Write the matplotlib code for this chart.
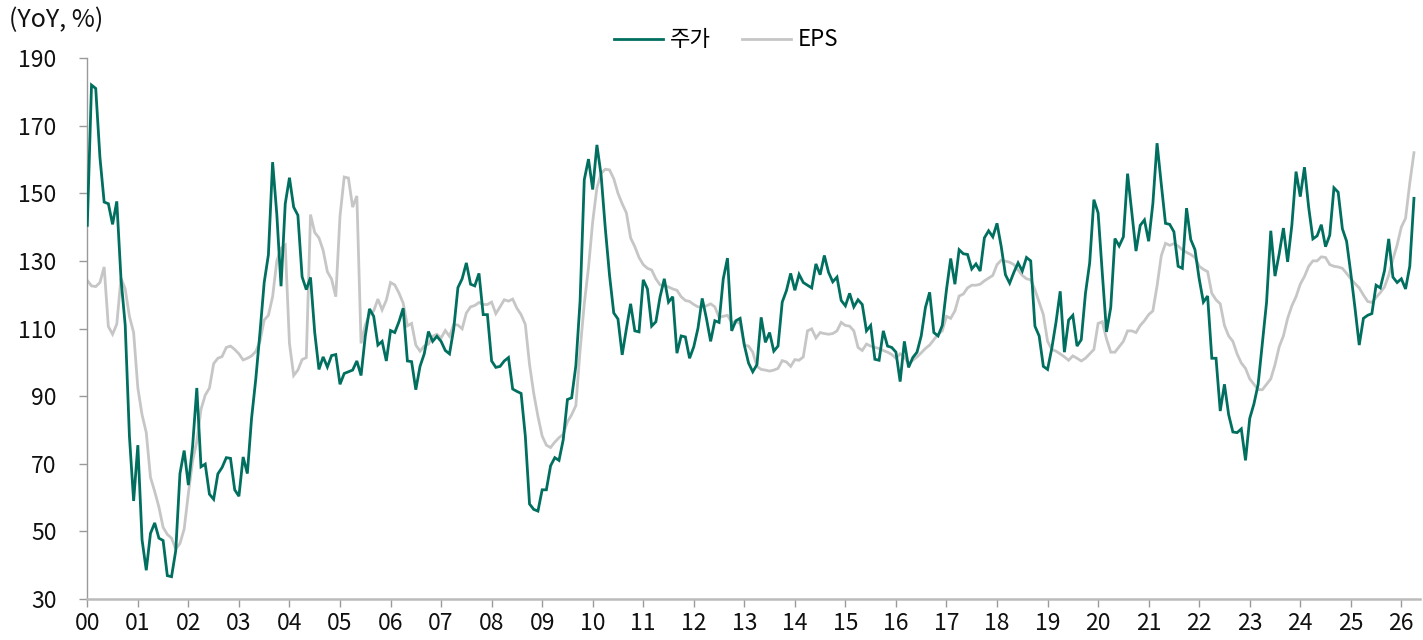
import matplotlib
matplotlib.use("Agg")
import matplotlib.pyplot as plt
import numpy as np

plt.rcParams['font.family'] = ['Noto Sans CJK KR', 'DejaVu Sans']

# Monthly YoY (%) values, Jan 2000 onward
stock_yoy = [
    140.5, 182, 181, 160.6, 147.4, 146.9, 140.8, 147.6, 124.7, 111, 78.2, 59,
    75.5, 47.5, 38.5, 49.4, 52.5, 48, 47.3, 36.9, 36.6, 44.3, 67.1, 73.9,
    63.7, 75.2, 92.4, 69.1, 69.9, 61, 59.5, 67, 68.9, 71.8, 71.6, 62.3,
    60.4, 72, 67.1, 83.4, 95, 108.8, 123.6, 131.8, 159.2, 143.7, 122.5, 146.9,
    154.6, 145.9, 143.5, 125.3, 121.5, 125.1, 108.8, 97.9, 101.6, 98.6, 102, 102.3,
    93.5, 96.7, 97.2, 97.7, 100.4, 96.1, 107.7, 115.8, 113.6, 105.1, 106.2, 100.4,
    109.4, 108.8, 112, 116, 100.4, 100.2, 91.9, 98.8, 102.5, 109.1, 106.2, 107.7,
    106.2, 103.5, 102.5, 109.9, 122.1, 124.7, 129.4, 123.1, 122.6, 126.3, 114.1, 114.1,
    100.4, 98.5, 98.8, 100.4, 101.4, 92.1, 91.4, 90.8, 78.2, 58.1, 56.5, 56,
    62.3, 62.3, 69.4, 71.8, 71, 77.1, 89, 89.5, 99, 118, 154, 160.1,
    151.1, 164.3, 155.3, 139.5, 125.7, 114.6, 112.8, 102.2, 109.9, 117.3, 109.3, 109,
    124.4, 121.7, 110.7, 112, 119.4, 124.7, 117.8, 119.4, 102.7, 107.8, 107.5, 101.2,
    104.6, 110.1, 118.9, 113, 106.2, 112.3, 111.8, 124.7, 130.8, 109.3, 112.3, 113,
    105.1, 99.8, 97.2, 99.3, 113.3, 105.9, 108.8, 103.3, 104.8, 117.8, 121.2, 126.3,
    121.3, 126, 123.6, 122.8, 122, 129.1, 125.9, 131.6, 126.6, 123.8, 125.2, 118.3,
    116.7, 120.4, 116.4, 118.5, 117.1, 109.3, 110.9, 100.9, 100.6, 109.3, 104.8, 104.4,
    103, 94.3, 106.2, 98.5, 101.4, 103, 107.8, 116.2, 120.7, 108.8, 107.8, 110.9,
    121.5, 130.7, 123.1, 133.3, 132.1, 131.9, 127.6, 129.1, 127, 136.8, 138.9, 137.1,
    141.1, 134.2, 125.9, 123.4, 126.6, 129.4, 127, 131, 130, 110.7, 107.8, 98.8,
    97.9, 104.1, 111.8, 121, 103, 112.5, 113.9, 104.8, 106.7, 120.4, 129.4, 148.1,
    144.2, 126.3, 109, 116.2, 136.6, 134.4, 137.1, 155.8, 144.2, 132.9, 140.5, 142.1,
    135.8, 146.9, 164.8, 152.7, 141.1, 140.8, 138.6, 128.4, 127.8, 145.6, 136.3, 133.3,
    124.7, 117.8, 119.6, 101.2, 101.2, 85.6, 93.5, 84.5, 79.4, 79.2, 80.3, 71,
    83.4, 87.7, 93.5, 105.6, 117.8, 138.9, 125.5, 132.1, 139.7, 129.7, 140.5, 156.4,
    149, 157.7, 145.8, 136.5, 137.4, 140.7, 134.2, 137.6, 151.6, 150.3, 139.5, 135.8,
    126.3, 116, 105.1, 113, 113.9, 114.4, 122.8, 122, 127.1, 136.5, 125.2, 123.6,
    124.7, 121.7, 128.4, 148.5,
]

eps_yoy = [
    124.2, 122.6, 122.4, 123.6, 128.2, 110.6, 108.3, 111.3, 124.9, 121.7, 113.6, 108.8,
    92.4, 84.5, 79.2, 66, 61.8, 57.2, 51.2, 49.1, 48, 44.8, 46.4, 50.7,
    61.2, 70.8, 76.6, 86.1, 90.3, 92.4, 99.6, 101.2, 101.7, 104.4, 104.8, 103.8,
    102.5, 100.7, 101.2, 101.9, 103.2, 106.2, 112.5, 113.9, 119.4, 130, 133.7, 134.7,
    105.6, 96.1, 97.7, 100.8, 101.4, 143.7, 138.4, 136.8, 133.1, 126.8, 124.6, 119.4,
    143.2, 154.8, 154.5, 145.9, 149.2, 105.6, 111, 114.1, 115.2, 118.7, 115.5, 118.4,
    123.6, 122.9, 120.5, 117.5, 110.8, 111.5, 105.1, 103.3, 104.8, 105.4, 107.7, 108.3,
    107.2, 109.4, 107.7, 111.2, 111, 109.9, 114.6, 116.4, 116.8, 117.7, 117.1, 117.1,
    117.8, 114.4, 116.4, 118.5, 118.1, 118.7, 116, 114.1, 111.2, 99.4, 90.8, 84,
    78.2, 75.5, 74.8, 76.4, 77.7, 78.7, 82.4, 84.5, 87.2, 103.5, 117.3, 128,
    141.6, 151.6, 155.9, 157.1, 156.9, 154.3, 150, 146.9, 144.2, 136.8, 134.2, 131,
    128.9, 127.8, 127.3, 124.7, 122.9, 122.6, 122.3, 121.7, 121.3, 119.4, 118.3, 118,
    117.1, 116.4, 116.4, 116.7, 117.3, 116.4, 113.3, 113.6, 113.9, 111.8, 112, 111.5,
    105.1, 104.8, 103, 98.8, 97.9, 97.7, 97.4, 97.7, 98.2, 100.5, 100.1, 98.8,
    100.8, 100.6, 101.6, 109.3, 109.9, 107.2, 108.8, 108.5, 108.3, 108.5, 109.3, 111.8,
    110.9, 110.7, 109.3, 104.4, 103.5, 105.4, 104.8, 104.4, 104.1, 103.5, 103, 102.3,
    101.2, 102.5, 101.6, 99.5, 100.6, 101.6, 102.8, 104.1, 105.1, 106.7, 108.3, 109.3,
    113.6, 113, 115.2, 119.6, 120.2, 122, 122.8, 122.8, 123.1, 124.1, 124.9, 125.7,
    128.9, 130.2, 129.9, 129.6, 128.9, 127.3, 125.7, 124.7, 124.4, 121.5, 117.8, 114.1,
    106.2, 103.8, 103.3, 102.5, 101.6, 100.6, 101.9, 101.2, 100.4, 101.2, 102.5, 103.8,
    111.5, 112, 106.9, 103, 103, 104.6, 106.2, 109.3, 109.3, 108.8, 110.9, 112.3,
    114.1, 115.2, 122.6, 131.5, 135.2, 134.6, 135.1, 134.4, 133.3, 132.5, 131.9, 131,
    128.4, 127.5, 126.8, 120.4, 118.5, 117.3, 110.9, 107.8, 106.2, 102.5, 99.8, 98.2,
    95.1, 93.5, 91.9, 91.9, 93.5, 95.1, 99.3, 104.6, 107.8, 113, 116.7, 119.4,
    123.1, 125.4, 128.4, 130, 130, 131.2, 131, 128.9, 128.4, 128.2, 127.8, 126.3,
    124.7, 123.3, 122, 119.9, 118, 117.7, 119.2, 120.6, 122.3, 125.7, 130.5, 134.7,
    140, 142.6, 153, 162,
]

start_year = 2000
year_ticks = list(range(2000, 2027))
year_labels = [f"{y % 100:02d}" for y in year_ticks]
y_ticks = list(range(30, 191, 20))
series_names = ["주가", "EPS"]

x_stock = start_year + np.arange(len(stock_yoy)) / 12.0
x_eps = start_year + np.arange(len(eps_yoy)) / 12.0

W, H = 1423, 640
fig = plt.figure(figsize=(W / 100, H / 100), dpi=100)
left_px, right_px, top_px, bot_px = 87.3, 1420, 58, 599
ax = fig.add_axes([left_px / W, 1 - bot_px / H, (right_px - left_px) / W, (bot_px - top_px) / H])

green = '#006F5F'
grey = '#C6C6C6'
l1, = ax.plot(x_stock, stock_yoy, color=green, lw=2.0, zorder=3, solid_joinstyle='miter')
l2, = ax.plot(x_eps, eps_yoy, color=grey, lw=2.0, zorder=2, solid_joinstyle='miter')

ax.set_xlim(2000, 2000 + (right_px - left_px) / 50.54)
ax.set_ylim(30, 190)
ax.set_xticks(year_ticks)
ax.set_xticklabels(year_labels)
ax.set_yticks(y_ticks)

for s in ['top', 'right']:
    ax.spines[s].set_visible(False)
ax.spines['left'].set_color('#9A9A9A')
ax.spines['left'].set_linewidth(1.0)
ax.spines['bottom'].set_color('#BBBBBB')
ax.spines['bottom'].set_linewidth(1.8)

ax.tick_params(axis='y', direction='out', length=6, width=1.0, color='#9A9A9A',
               labelsize=16.5, pad=16, labelcolor='#111111')
ax.tick_params(axis='x', direction='out', length=6, width=1.0, color='#9A9A9A',
               labelsize=16.5, pad=3, labelcolor='#111111')

fig.text(9 / W, 1 - 20 / H, "(YoY, %)", fontsize=18, va='center', ha='left', color='#111111')

fig.legend([l1, l2], series_names, loc='center', bbox_to_anchor=(726 / W, 1 - 40 / H),
           ncol=2, frameon=False, fontsize=16, handlelength=2.2, handletextpad=0.3,
           columnspacing=1.4)

fig.savefig("out.png", dpi=100)
